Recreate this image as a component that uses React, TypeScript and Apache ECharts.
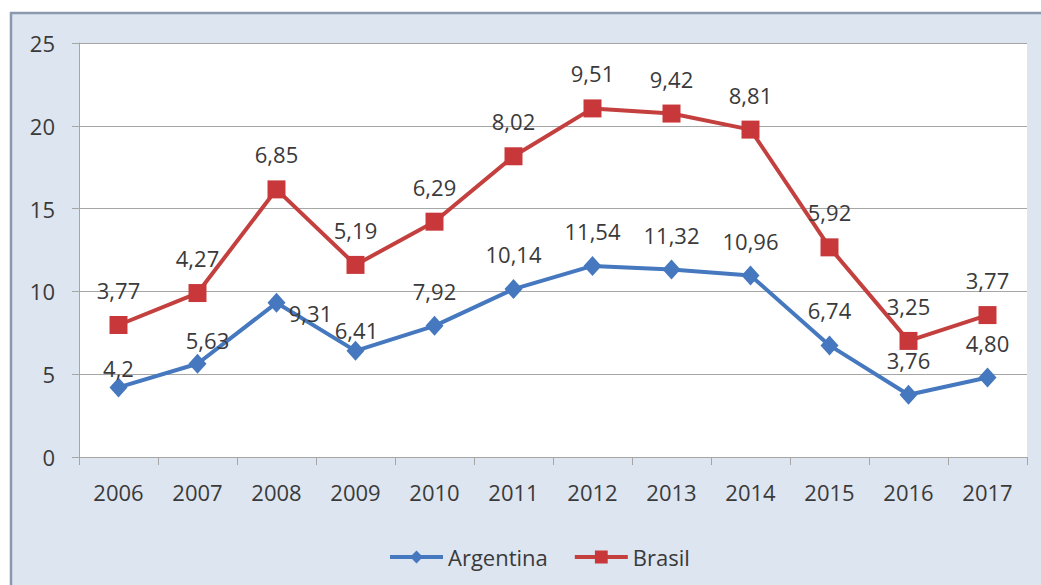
import React, { useEffect, useRef } from "react";
import * as echarts from "echarts";

const years = ["2006", "2007", "2008", "2009", "2010", "2011", "2012", "2013", "2014", "2015", "2016", "2017"];
const argentina = [4.2, 5.63, 9.31, 6.41, 7.92, 10.14, 11.54, 11.32, 10.96, 6.74, 3.76, 4.8];
const brasil = [3.77, 4.27, 6.85, 5.19, 6.29, 8.02, 9.51, 9.42, 8.81, 5.92, 3.25, 3.77];
const argentinaLabels = ["4,2", "5,63", "9,31", "6,41", "7,92", "10,14", "11,54", "11,32", "10,96", "6,74", "3,76", "4,80"];
const brasilLabels = ["3,77", "4,27", "6,85", "5,19", "6,29", "8,02", "9,51", "9,42", "8,81", "5,92", "3,25", "3,77"];

const FONT = "Open Sans";
const TEXT = "#3a3a3a";
const DEFAULT_OFFSET = [0, -35];
const argOffsets: Record<number, number[]> = { 0: [0, -19], 1: [10, -24], 2: [34, 10], 3: [1, -21] };

export default function App() {
  const ref = useRef<HTMLDivElement>(null);
  useEffect(() => {
    if (!ref.current) return;
    const chart = echarts.init(ref.current, undefined, { renderer: "svg" });
    const labelBase = {
      show: true,
      position: "inside",
      color: TEXT,
      fontSize: 22,
      fontFamily: FONT,
    };
    chart.setOption({
      animation: false,
      graphic: [
        {
          type: "rect",
          z: -10,
          silent: true,
          shape: { x: 11, y: 13, width: 1100, height: 620 },
          style: { fill: "#dde5f0", stroke: "#8a99ad", lineWidth: 2.5 },
        },
      ],
      grid: {
        left: 79,
        right: 14,
        top: 43,
        bottom: 128,
        show: true,
        backgroundColor: "#ffffff",
        borderWidth: 0,
      },
      legend: {
        left: 383,
        top: 541,
        itemWidth: 53,
        itemHeight: 16,
        itemGap: 25,
        lineStyle: { width: 4 },
        textStyle: { color: TEXT, fontSize: 22, fontFamily: FONT },
        data: ["Argentina", "Brasil"],
      },
      xAxis: {
        type: "category",
        data: years,
        boundaryGap: true,
        axisLine: { show: true, lineStyle: { color: "#a6a6a6", width: 1 } },
        axisTick: { show: true, length: 8, lineStyle: { color: "#a6a6a6" } },
        axisLabel: { color: TEXT, fontSize: 22, fontFamily: FONT, margin: 24 },
      },
      yAxis: {
        type: "value",
        min: 0,
        max: 25,
        interval: 5,
        axisLine: { show: true, lineStyle: { color: "#a6a6a6", width: 1 } },
        axisTick: { show: true, length: 7, lineStyle: { color: "#a6a6a6" } },
        axisLabel: { color: TEXT, fontSize: 22, fontFamily: FONT, margin: 24 },
        splitLine: { show: true, lineStyle: { color: "#a6a6a6", width: 1 } },
      },
      series: [
        {
          name: "Argentina",
          type: "line",
          stack: "total",
          symbol: "diamond",
          symbolSize: [18, 20],
          color: "#4578be",
          lineStyle: { width: 4, color: "#4578be" },
          itemStyle: { color: "#4578be" },
          label: { ...labelBase, formatter: (p: any) => argentinaLabels[p.dataIndex] },
          data: argentina.map((v, i) => ({ value: v, label: { offset: argOffsets[i] || DEFAULT_OFFSET } })),
          z: 3,
        },
        {
          name: "Brasil",
          type: "line",
          stack: "total",
          symbol: "rect",
          symbolSize: 18,
          color: "#c23d3c",
          lineStyle: { width: 4, color: "#c4403f" },
          itemStyle: { color: "#c8383a" },
          label: { ...labelBase, formatter: (p: any) => brasilLabels[p.dataIndex] },
          data: brasil.map((v) => ({ value: v, label: { offset: DEFAULT_OFFSET } })),
          z: 3,
        },
      ],
    });
    return () => chart.dispose();
  }, []);
  return (
    <div
      ref={ref}
      style={{ position: "fixed", left: 0, top: 0, width: 1041, height: 585, background: "#ffffff" }}
    />
  );
}
